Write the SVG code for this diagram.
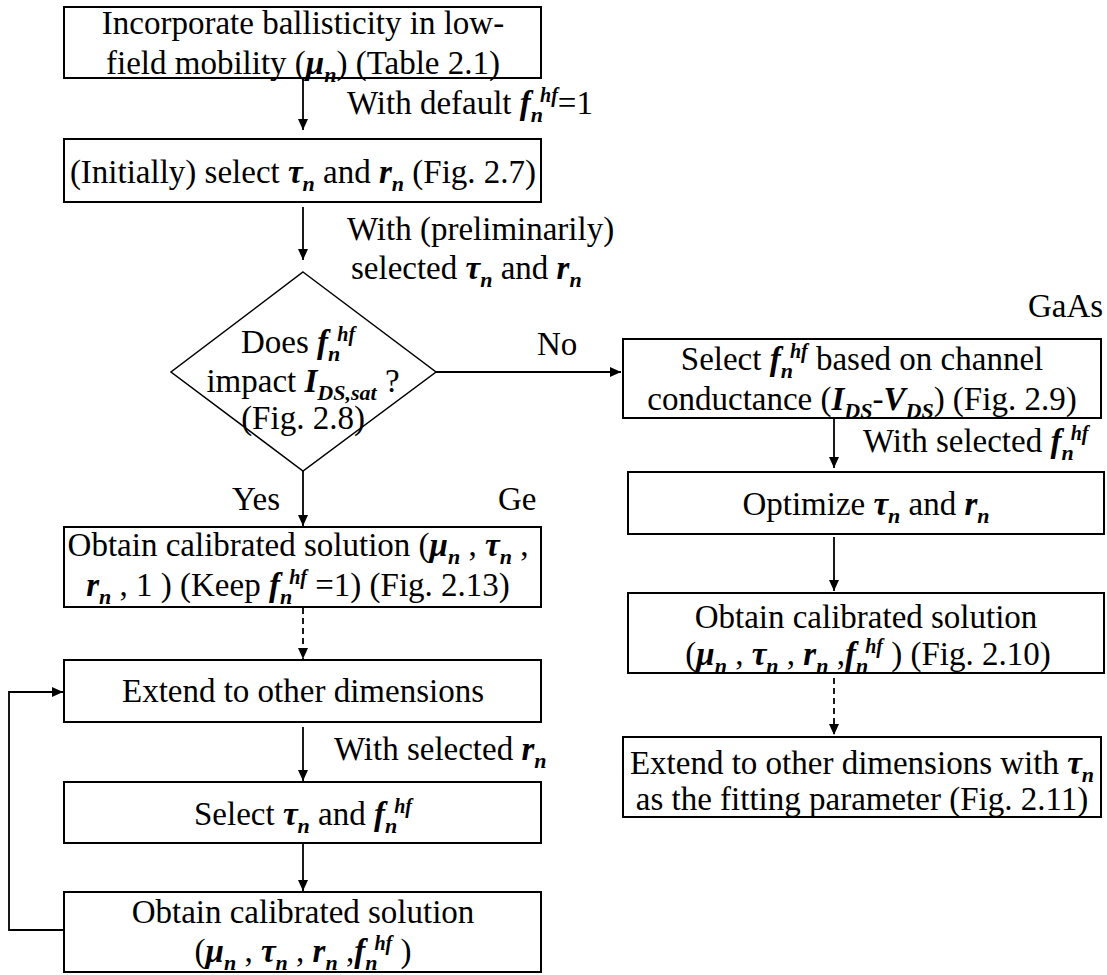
<svg xmlns="http://www.w3.org/2000/svg" width="1107" height="975" viewBox="0 0 1107 975" font-family="'Liberation Serif','Times New Roman',serif">
<style>
text{font-family:"Liberation Serif","Times New Roman",serif;font-size:33px;fill:#000}
.m{text-anchor:middle}
.i{font-style:italic;font-weight:bold}
.sb{font-style:italic;font-weight:bold;font-size:22px}
.sp{font-style:italic;font-weight:bold;font-size:20px}
.box{fill:#fff;stroke:#000;stroke-width:2}
.dia{fill:#fff;stroke:#000;stroke-width:1.5}
.c{fill:none;stroke:#000;stroke-width:1.8}
.d{stroke-dasharray:6 4}
</style>
<defs>
<marker id="ah" markerUnits="userSpaceOnUse" markerWidth="11" markerHeight="10" viewBox="0 0 11 10" refX="11" refY="5" orient="auto">
<path d="M0,0 L11,5 L0,10 z" fill="#000"/>
</marker>
</defs>

<g id="connectors">
<line class="c" x1="303" y1="78" x2="303" y2="130" marker-end="url(#ah)"/>
<line class="c" x1="303" y1="207" x2="303" y2="260" marker-end="url(#ah)"/>
<line class="c" x1="436" y1="372" x2="621" y2="372" marker-end="url(#ah)"/>
<line class="c" x1="303" y1="471" x2="303" y2="526" marker-end="url(#ah)"/>
<line class="c d" x1="303" y1="608" x2="303" y2="659" marker-end="url(#ah)"/>
<line class="c" x1="303" y1="727" x2="303" y2="781" marker-end="url(#ah)"/>
<line class="c" x1="303" y1="843" x2="303" y2="891" marker-end="url(#ah)"/>
<path class="c" d="M64,930 H9 V692 H63" marker-end="url(#ah)"/>
<line class="c" x1="834" y1="418" x2="834" y2="468" marker-end="url(#ah)"/>
<line class="c" x1="834" y1="537" x2="834" y2="591" marker-end="url(#ah)"/>
<line class="c d" x1="834" y1="678" x2="834" y2="735" marker-end="url(#ah)"/>
</g>

<g id="labels">
<text x="347" y="114">With default <tspan class="i">f</tspan><tspan class="sb" dy="8">n</tspan><tspan class="sp" dx="-3" dy="-20">hf</tspan><tspan dy="12">=1</tspan></text>
<text x="347" y="240">With (preliminarily)</text>
<text x="351" y="279">selected <tspan class="i">τ</tspan><tspan class="sb" dy="8">n</tspan><tspan dy="-8"> and </tspan><tspan class="i">r</tspan><tspan class="sb" dy="8">n</tspan></text>
<text x="537" y="355">No</text>
<text x="232" y="510">Yes</text>
<text x="498" y="510">Ge</text>
<text x="1028" y="317">GaAs</text>
<text x="863" y="452">With selected <tspan class="i">f</tspan><tspan class="sb" dy="8">n</tspan><tspan class="sp" dx="-3" dy="-20">hf</tspan></text>
<text x="334" y="760">With selected <tspan class="i">r</tspan><tspan class="sb" dy="8">n</tspan></text>
</g>

<g id="n1">
<rect class="box" x="64" y="7" width="477" height="71"/>
<text class="m" x="303" y="34">Incorporate ballisticity in low-</text>
<text class="m" x="303" y="74">field mobility (<tspan class="i">μ</tspan><tspan class="sb" dy="8">n</tspan><tspan dy="-8">) (Table 2.1)</tspan></text>
</g>

<g id="n2">
<rect class="box" x="64" y="139" width="477" height="63"/>
<text class="m" x="303" y="183">(Initially) select <tspan class="i">τ</tspan><tspan class="sb" dy="8">n</tspan><tspan dy="-8"> and </tspan><tspan class="i">r</tspan><tspan class="sb" dy="8">n</tspan><tspan dy="-8"> (Fig. 2.7)</tspan></text>
</g>

<g id="n3">
<polygon class="dia" points="303,272 436,372 303,471 171,372"/>
<text class="m" x="298" y="353">Does <tspan class="i">f</tspan><tspan class="sb" dy="8">n</tspan><tspan class="sp" dx="-3" dy="-20">hf</tspan></text>
<text class="m" x="303" y="392">impact <tspan class="i">I</tspan><tspan class="sb" dy="8">DS,sat</tspan><tspan dy="-8"> ?</tspan></text>
<text class="m" x="303" y="429">(Fig. 2.8)</text>
</g>

<g id="n4">
<rect class="box" x="64" y="527" width="477" height="80"/>
<text class="m" x="298" y="556">Obtain calibrated solution (<tspan class="i">μ</tspan><tspan class="sb" dy="8">n</tspan><tspan dy="-8"> , </tspan><tspan class="i">τ</tspan><tspan class="sb" dy="8">n</tspan><tspan dy="-8"> ,</tspan></text>
<text class="m" x="298" y="596"><tspan class="i">r</tspan><tspan class="sb" dy="8">n</tspan><tspan dy="-8"> , 1 ) (Keep </tspan><tspan class="i">f</tspan><tspan class="sb" dy="8">n</tspan><tspan class="sp" dx="-3" dy="-20">hf</tspan><tspan dy="12"> =1) (Fig. 2.13)</tspan></text>
</g>

<g id="n5">
<rect class="box" x="64" y="660" width="477" height="62"/>
<text class="m" x="303" y="702">Extend to other dimensions</text>
</g>

<g id="n6">
<rect class="box" x="64" y="782" width="477" height="61"/>
<text class="m" x="303" y="825">Select <tspan class="i">τ</tspan><tspan class="sb" dy="8">n</tspan><tspan dy="-8"> and </tspan><tspan class="i">f</tspan><tspan class="sb" dy="8">n</tspan><tspan class="sp" dx="-3" dy="-20">hf</tspan></text>
</g>

<g id="n7">
<rect class="box" x="64" y="892" width="477" height="80"/>
<text class="m" x="303" y="923">Obtain calibrated solution</text>
<text class="m" x="303" y="962">(<tspan class="i">μ</tspan><tspan class="sb" dy="8">n</tspan><tspan dy="-8"> , </tspan><tspan class="i">τ</tspan><tspan class="sb" dy="8">n</tspan><tspan dy="-8"> , </tspan><tspan class="i">r</tspan><tspan class="sb" dy="8">n</tspan><tspan dy="-8"> ,</tspan><tspan class="i">f</tspan><tspan class="sb" dy="8">n</tspan><tspan class="sp" dx="-3" dy="-20">hf</tspan><tspan dy="12"> )</tspan></text>
</g>

<g id="n8">
<rect class="box" x="623" y="339" width="478" height="79"/>
<text class="m" x="862" y="370">Select <tspan class="i">f</tspan><tspan class="sb" dy="8">n</tspan><tspan class="sp" dx="-3" dy="-20">hf</tspan><tspan dy="12"> based on channel</tspan></text>
<text class="m" x="862" y="410">conductance (<tspan class="i">I</tspan><tspan class="sb" dy="8">DS</tspan><tspan dy="-8">-</tspan><tspan class="i">V</tspan><tspan class="sb" dy="8">DS</tspan><tspan dy="-8">) (Fig. 2.9)</tspan></text>
</g>

<g id="n9">
<rect class="box" x="628" y="472" width="476" height="62"/>
<text class="m" x="866" y="515">Optimize <tspan class="i">τ</tspan><tspan class="sb" dy="8">n</tspan><tspan dy="-8"> and </tspan><tspan class="i">r</tspan><tspan class="sb" dy="8">n</tspan></text>
</g>

<g id="n10">
<rect class="box" x="628" y="593" width="476" height="80"/>
<text class="m" x="866" y="628">Obtain calibrated solution</text>
<text class="m" x="868" y="665">(<tspan class="i">μ</tspan><tspan class="sb" dy="8">n</tspan><tspan dy="-8"> , </tspan><tspan class="i">τ</tspan><tspan class="sb" dy="8">n</tspan><tspan dy="-8"> , </tspan><tspan class="i">r</tspan><tspan class="sb" dy="8">n</tspan><tspan dy="-8"> ,</tspan><tspan class="i">f</tspan><tspan class="sb" dy="8">n</tspan><tspan class="sp" dx="-3" dy="-20">hf</tspan><tspan dy="12"> ) (Fig. 2.10)</tspan></text>
</g>

<g id="n11">
<rect class="box" x="623" y="737" width="478" height="80"/>
<text class="m" x="862" y="774">Extend to other dimensions with <tspan class="i">τ</tspan><tspan class="sb" dy="8">n</tspan></text>
<text class="m" x="862" y="810">as the fitting parameter (Fig. 2.11)</text>
</g>
</svg>
